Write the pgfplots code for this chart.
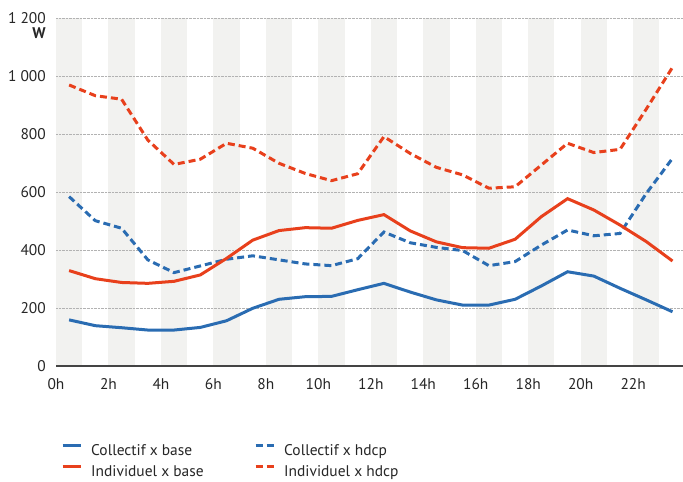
\documentclass[border=0pt]{standalone}
\usepackage{fontspec}
\setmainfont{PT Sans}
\usepackage{pgfplots}
\pgfplotsset{compat=1.18}
\definecolor{cblue}{RGB}{42,108,178}
\definecolor{cred}{RGB}{232,64,28}
\definecolor{stripe}{RGB}{242,242,240}
\definecolor{axisgray}{RGB}{68,68,68}
\pgfplotstableread{
h cb ch ib ih
0.5 159 584 329 969
1.5 139 501 301 932
2.5 132 475 288 920
3.5 124 366 285 779
4.5 124 322 292 695
5.5 133 345 314 713
6.5 156 368 371 768
7.5 199 380 434 751
8.5 230 366 467 699
9.5 239 352 477 664
10.5 240 346 475 639
11.5 263 370 502 663
12.5 285 462 522 791
13.5 255 425 466 733
14.5 228 409 428 685
15.5 210 398 408 659
16.5 210 346 406 613
17.5 230 360 437 618
18.5 276 417 515 693
19.5 325 469 577 768
20.5 310 449 538 736
21.5 268 457 486 747
22.5 228 595 429 886
23.5 187 716 362 1030
}\data
\begin{document}
\begin{tikzpicture}
\begin{axis}[
  set layers, clip mode=individual,
  at={(56bp,116bp)}, anchor=south west,
  scale only axis, width=627bp, height=348bp,
  xmin=0, xmax=23.9, ymin=0, ymax=1200,
  axis x line*=bottom, axis y line*=left,
  x axis line style={axisgray, line width=2bp, -},
  y axis line style={draw=none},
  ytick={0,200,...,1200},
  yticklabels={0,200,400,600,800,1 000,1 200},
  xtick={0,2,...,22},
  xticklabels={0h,2h,4h,6h,8h,10h,12h,14h,16h,18h,20h,22h},
  major tick length=0pt, tick style={draw=none},
  ymajorgrids, major grid style={densely dotted, gray!60, line width=0.7bp},
  ticklabel style={font=\fontsize{15.5}{17}\selectfont, text=black!85},
  yticklabel style={anchor=east, inner sep=0pt, xshift=-10bp},
  xticklabel style={anchor=north, inner sep=0pt, yshift=-12bp},
  legend columns=2,
  legend style={at={(axis description cs:0,0)}, anchor=north west,
    xshift=5bp, yshift=-78bp, draw=none, fill=none, inner sep=0pt,
    nodes={inner sep=0pt, text=black!85},
    font=\fontsize{15.5}{17}\selectfont, row sep=8bp, column sep=9bp},
  legend cell align=left,
  legend image code/.code={\draw[#1] (0bp,5bp) -- (18bp,5bp);},
]
\begin{pgfonlayer}{axis background}
\fill[stripe] (axis cs:0,0) rectangle (axis cs:1,1200);
\fill[stripe] (axis cs:2,0) rectangle (axis cs:3,1200);
\fill[stripe] (axis cs:4,0) rectangle (axis cs:5,1200);
\fill[stripe] (axis cs:6,0) rectangle (axis cs:7,1200);
\fill[stripe] (axis cs:8,0) rectangle (axis cs:9,1200);
\fill[stripe] (axis cs:10,0) rectangle (axis cs:11,1200);
\fill[stripe] (axis cs:12,0) rectangle (axis cs:13,1200);
\fill[stripe] (axis cs:14,0) rectangle (axis cs:15,1200);
\fill[stripe] (axis cs:16,0) rectangle (axis cs:17,1200);
\fill[stripe] (axis cs:18,0) rectangle (axis cs:19,1200);
\fill[stripe] (axis cs:20,0) rectangle (axis cs:21,1200);
\fill[stripe] (axis cs:22,0) rectangle (axis cs:23,1200);
\end{pgfonlayer}
\addplot[cblue, line width=3bp, no markers] table[x=h, y=cb] {\data};
\addlegendentry{\makebox[154bp][l]{Collectif x base}}
\addplot[cblue, line width=3bp, dash pattern=on 7bp off 4bp, no markers] table[x=h, y=ch] {\data};
\addlegendentry{Collectif x hdcp}
\addplot[cred, line width=3bp, no markers] table[x=h, y=ib] {\data};
\addlegendentry{\makebox[154bp][l]{Individuel x base}}
\addplot[cred, line width=3bp, dash pattern=on 7bp off 4bp, no markers] table[x=h, y=ih] {\data};
\addlegendentry{Individuel x hdcp}
\node[anchor=north east, inner sep=0pt, font=\fontsize{15.5}{17}\selectfont\bfseries, text=black!85]
  at (axis description cs:0,1) [xshift=-10bp, yshift=-9bp] {W};
\end{axis}
\pgfresetboundingbox
\useasboundingbox (0bp,0bp) rectangle (683bp,482bp);
\end{tikzpicture}
\end{document}
